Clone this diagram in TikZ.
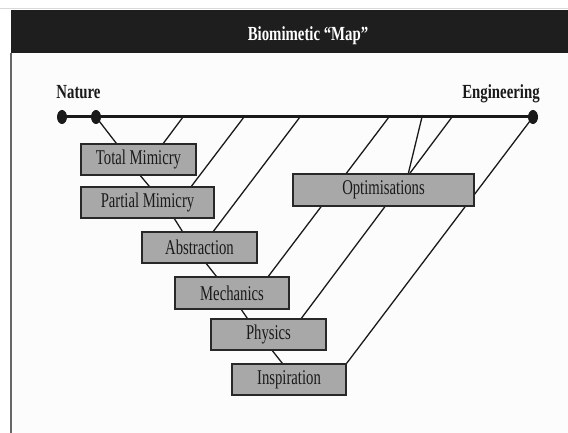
\documentclass[tikz,border=0pt]{standalone}
\usepackage{fontspec}
\setmainfont{Liberation Serif}[FakeStretch=0.70, BoldFeatures={FakeStretch=0.74}]
\usetikzlibrary{shapes.geometric,calc}
\pgfdeclarelayer{page}
\pgfdeclarelayer{wires}
\pgfsetlayers{page,wires,main}
\definecolor{bandcol}{RGB}{30,30,30}
\definecolor{boxfill}{RGB}{168,168,168}
\definecolor{boxline}{RGB}{40,40,40}
\definecolor{inkcol}{RGB}{26,26,26}
\definecolor{pagecol}{RGB}{252,252,252}
\tikzset{
  box/.style={draw=boxline, fill=boxfill, line width=1.3pt, inner sep=0pt,
    minimum height=31pt, font=\fontsize{21}{21}\selectfont, text=inkcol},
  dot/.style={ellipse, fill=inkcol, minimum width=10pt, minimum height=14pt, inner sep=0pt},
  conn/.style={draw=inkcol, line width=1.3pt},
  lbl/.style={font=\fontsize{20}{20}\selectfont\bfseries, anchor=base, inner sep=0pt}
}
\begin{document}
\begin{tikzpicture}[x=1pt,y=-1pt]
\useasboundingbox (0,0) rectangle (568,433);
\begin{pgfonlayer}{page}
\fill[white] (0,0) rectangle (568,433);
\fill[pagecol] (11,10) rectangle (568,433);
\draw[gray!30, line width=0.8pt] (0,8) -- (568,8);
\fill[bandcol] (11,10) rectangle (568,53);
\draw[gray!120, line width=1.6pt] (11,53) -- (11,433);
\end{pgfonlayer}
\node[lbl, text=white] (title) at (308,41) {Biomimetic “Map”};
\node[lbl, text=inkcol] (nat) at (78.5,99) {Nature};
\node[lbl, text=inkcol] (eng) at (501,98.5) {Engineering};

% boxes
\node[box, minimum width=115pt] (tm) at (138.5,159.5) {Total Mimicry};
\node[box, minimum width=133pt] (pm) at (147.5,202.5) {Partial Mimicry};
\node[box, minimum width=115pt] (ab) at (199.5,247.5) {Abstraction};
\node[box, minimum width=114pt, minimum height=32pt] (me) at (232,293) {Mechanics};
\node[box, minimum width=115pt] (ph) at (268.5,334.5) {Physics};
\node[box, minimum width=114pt] (in) at (289,379.5) {Inspiration};
\node[box, minimum width=181pt, minimum height=32pt] (op) at (383.5,190) {Optimisations};

% main line
\node[dot] (d1) at (62,117) {};
\node[dot] (d2) at (96,117) {};
\node[dot] (d3) at (533,117) {};
\coordinate (m1) at (183,117);
\coordinate (m2) at (244,117);
\coordinate (m3) at (300,117);
\coordinate (m4) at (389,117);
\coordinate (m5) at (422,117);
\coordinate (m6) at (452,117);

\begin{pgfonlayer}{wires}
\draw[draw=inkcol, line width=3pt] (d1.center) -- (d3.center);
\draw[conn] (d2.center) -- ($(tm.north west)+(36,0)$);
\draw[conn] (m1) -- ($(tm.north west)+(83,0)$);
\draw[conn] ($(tm.south west)+(60,0)$) -- ($(pm.north west)+(69,0)$);
\draw[conn] (m2) -- ($(pm.north west)+(111,0)$);
\draw[conn] ($(pm.south west)+(94,0)$) -- ($(ab.north west)+(41,0)$);
\draw[conn] (m3) -- ($(ab.north west)+(72,0)$);
\draw[conn] ($(ab.south west)+(65,0)$) -- ($(me.north west)+(42,0)$);
\draw[conn] (m4) -- ($(me.north west)+(94,0)$);
\draw[conn] ($(me.south west)+(67,0)$) -- ($(ph.north west)+(37,0)$);
\draw[conn] (m6) -- ($(ph.north west)+(91,0)$);
\draw[conn] (m5) -- ($(op.north west)+(116,0)$);
\draw[conn] ($(ph.south west)+(62,0)$) -- ($(in.north west)+(51,0)$);
\draw[conn] (d3.center) -- (in.north east);
\end{pgfonlayer}
\end{tikzpicture}
\end{document}
